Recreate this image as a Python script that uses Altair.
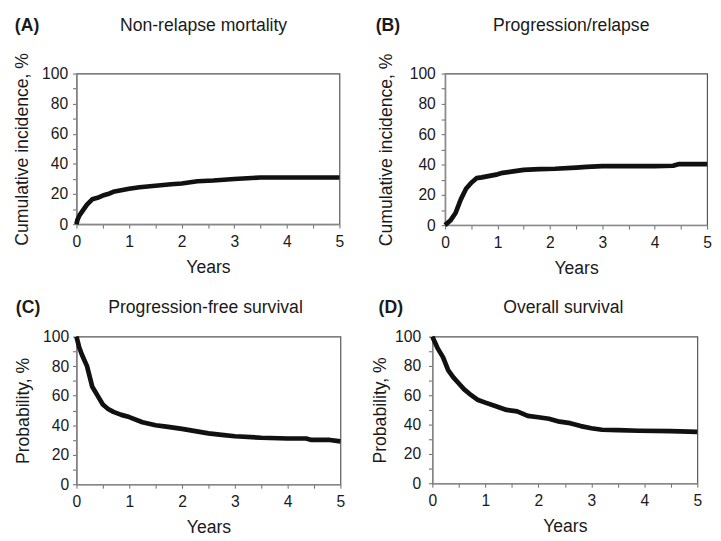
import altair as alt
import pandas as pd

FONT = "Liberation Sans"
TXT = "#1a1a1a"

# Panel A: Non-relapse mortality (cumulative incidence, %)
a_years = [0, 0.02, 0.06, 0.12, 0.2, 0.3, 0.4, 0.5, 0.6, 0.7, 0.85, 1.0, 1.2, 1.5, 1.8, 2.0, 2.3, 2.6, 3.0, 3.5, 4.0, 4.5, 5.0]
a_vals = [0, 3, 6, 9, 13, 16.5, 17.5, 19, 20, 21.5, 22.5, 23.5, 24.5, 25.5, 26.5, 27, 28.5, 29, 30, 31, 31, 31, 31]

# Panel B: Progression/relapse (cumulative incidence, %)
b_years = [0, 0.1, 0.2, 0.3, 0.4, 0.5, 0.6, 0.7, 0.85, 1.0, 1.1, 1.3, 1.5, 1.8, 2.1, 2.5, 2.7, 3.0, 3.5, 4.0, 4.35, 4.45, 5.0]
b_vals = [0, 3, 8, 17, 24, 28, 31, 31.5, 32.5, 33.5, 34.5, 35.5, 36.5, 37, 37.2, 38, 38.5, 39, 39, 39, 39.2, 40.2, 40.3]

# Panel C: Progression-free survival (probability, %)
c_years = [0, 0.05, 0.1, 0.2, 0.3, 0.4, 0.5, 0.6, 0.7, 0.85, 1.0, 1.25, 1.5, 1.7, 2.0, 2.25, 2.5, 2.75, 3.0, 3.5, 4.0, 4.35, 4.45, 4.8, 5.0]
c_vals = [100, 93, 88, 80, 66, 60, 54, 51, 49, 47, 45.5, 42, 40, 39, 37.5, 36, 34.5, 33.5, 32.5, 31.5, 31, 31, 30, 30, 29]

# Panel D: Overall survival (probability, %)
d_years = [0, 0.05, 0.1, 0.2, 0.3, 0.4, 0.5, 0.6, 0.7, 0.85, 1.0, 1.2, 1.4, 1.6, 1.8, 2.0, 2.2, 2.4, 2.6, 2.8, 3.0, 3.2, 3.5, 3.9, 4.5, 5.0]
d_vals = [100, 96, 92, 86, 77, 72, 68, 64, 61, 57, 55, 52.5, 50, 49, 46, 45, 44, 42, 41, 39, 37.5, 36.5, 36.3, 35.8, 35.5, 35]

x_ticks = [0, 0.5, 1, 1.5, 2, 2.5, 3, 3.5, 4, 4.5, 5]
y_ticks = [0, 10, 20, 30, 40, 50, 60, 70, 80, 90, 100]


def panel(years, vals, letter, title, ytitle, w, h, letter_dx, title_dx, text_dy,
          title_pad, label_pad):
    df = pd.DataFrame({"t": years, "v": vals})
    common = dict(
        domainColor="#888888", domainWidth=1.5, tickColor="#666666", tickSize=4,
        tickWidth=1, labelFont=FONT, labelFontSize=16, labelColor=TXT,
        titleFont=FONT, titleFontSize=18, titleFontWeight="normal", titleColor=TXT,
        grid=False, labelOverlap=False, labelFlush=False,
    )
    x = alt.X("t:Q", scale=alt.Scale(domain=[0, 5], nice=False),
              axis=alt.Axis(values=x_ticks, title="Years",
                            labelExpr="datum.value % 1 == 0 ? format(datum.value, 'd') : ''",
                            labelPadding=6, titlePadding=9, **common))
    y = alt.Y("v:Q", scale=alt.Scale(domain=[0, 100], nice=False),
              axis=alt.Axis(values=y_ticks, title=ytitle,
                            labelExpr="datum.value % 20 == 0 ? format(datum.value, 'd') : ''",
                            labelPadding=label_pad, titlePadding=title_pad, **common))
    line = alt.Chart(df).mark_line(color="#111111", strokeWidth=4.8, strokeJoin="round").encode(x=x, y=y)
    one = pd.DataFrame({"k": [0]})
    let = alt.Chart(one).mark_text(text=letter, font=FONT, fontSize=18, fontWeight="bold",
                                   color=TXT, align="left", baseline="alphabetic").encode(
        x=alt.value(letter_dx), y=alt.value(text_dy))
    ttl = alt.Chart(one).mark_text(text=title, font=FONT, fontSize=18, color=TXT,
                                   align="center", baseline="alphabetic").encode(
        x=alt.value(title_dx), y=alt.value(text_dy))
    return alt.layer(line, let, ttl).properties(width=w, height=h)


pa = panel(a_years, a_vals, "(A)", "Non-relapse mortality", "Cumulative incidence, %",
           269, 154, -63, 130, -44, 10, 5)
pb = panel(b_years, b_vals, "(B)", "Progression/relapse", "Cumulative incidence, %",
           268, 155, -71, 129, -44, 14, 6)
pc = panel(c_years, c_vals, "(C)", "Progression-free survival", "Probability, %",
           270, 151, -62, 132, -24, 10, 4)
pd_ = panel(d_years, d_vals, "(D)", "Overall survival", "Probability, %",
            271, 150, -55, 134, -24, 5, 8)

row1 = alt.hconcat(pa, pb, spacing=30)
row2 = alt.hconcat(pc, pd_, spacing=25)

chart = alt.vconcat(row1, row2, spacing=21).properties(
    padding={"left": 5, "top": 2, "right": 0, "bottom": 0},
    background="white",
).configure_view(stroke="#555555", strokeWidth=1.2)

chart.save("out.html", embed_options={"renderer": "svg", "actions": False})
